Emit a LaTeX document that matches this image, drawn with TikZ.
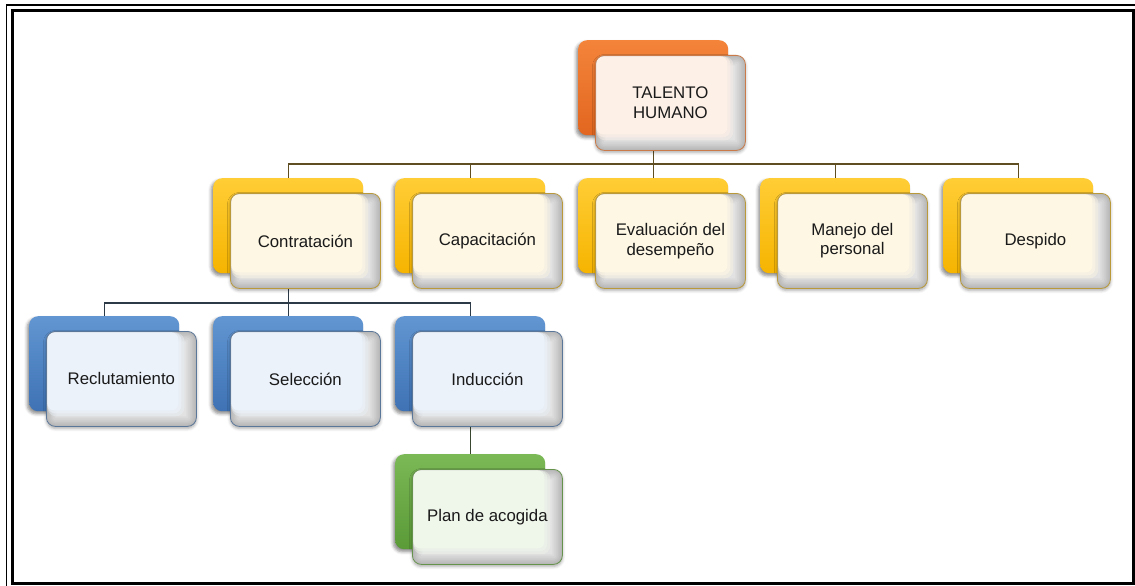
\documentclass[tikz,border=0pt]{standalone}
\usepackage{fontspec}
\setmainfont{Liberation Sans}
\usetikzlibrary{calc,shadows.blur,backgrounds}

% palette: back card (top/bottom of gradient), front card tint and outline
\definecolor{orangetop}{HTML}{F4843A}
\definecolor{orangebot}{HTML}{E2661F}
\definecolor{orangetint}{HTML}{FDF0E7}
\definecolor{orangeline}{HTML}{C97A48}
\definecolor{yellowtop}{HTML}{FFCD35}
\definecolor{yellowbot}{HTML}{F6B400}
\definecolor{yellowtint}{HTML}{FEF7E4}
\definecolor{yellowline}{HTML}{B9993A}
\definecolor{bluetop}{HTML}{6196D2}
\definecolor{bluebot}{HTML}{3E72B4}
\definecolor{bluetint}{HTML}{EBF2FA}
\definecolor{blueline}{HTML}{5A7698}
\definecolor{greentop}{HTML}{7BB856}
\definecolor{greenbot}{HTML}{5A9A37}
\definecolor{greentint}{HTML}{EFF6EA}
\definecolor{greenline}{HTML}{66934C}
\definecolor{shadegray}{HTML}{E2E2E2}
\definecolor{ink}{HTML}{1A1A1A}
\definecolor{olivebus}{HTML}{5E4E22}
\definecolor{slatebus}{HTML}{2C3A48}
\definecolor{greenbus}{HTML}{3A4730}

\tikzset{
  backbox/.style={rounded corners=9pt, minimum width=150pt, minimum height=95pt,
    inner sep=0pt, anchor=north west, top color=#1top, bottom color=#1bot,
    blur shadow={shadow xshift=-2pt, shadow yshift=-2.5pt,
      shadow blur radius=3pt, shadow opacity=45}},
  frontbox/.style={rounded corners=9pt, minimum width=150pt, minimum height=95pt,
    inner sep=0pt, anchor=north west, draw=#1line, line width=0.8pt,
    fill=shadegray, align=center, text=ink,
    font=\fontsize{16.8}{19.5}\selectfont,
    blur shadow={shadow xshift=0pt, shadow yshift=-2pt,
      shadow blur radius=3pt, shadow opacity=35},
    path picture={
      % soft inner shading towards the card edge
      \foreach \w in {20,16,12,9,6,3}
        \draw[line width=\w pt, black, opacity=0.03, rounded corners=9pt]
          (path picture bounding box.south west) rectangle (path picture bounding box.north east);
      % tinted area where the card lies over the coloured back card
      \fill[#1tint, opacity=0.4, rounded corners=9pt]
        ($(path picture bounding box.north west)+(1pt,-1pt)$) rectangle
        ($(path picture bounding box.south east)+(-12pt,10pt)$);
      \fill[#1tint, opacity=0.6, rounded corners=8pt]
        ($(path picture bounding box.north west)+(1pt,-1pt)$) rectangle
        ($(path picture bounding box.south east)+(-15pt,13pt)$);
      \fill[#1tint, rounded corners=7pt]
        ($(path picture bounding box.north west)+(1pt,-1pt)$) rectangle
        ($(path picture bounding box.south east)+(-18pt,16pt)$);
    }},
  bus/.style={draw=#1, line width=1.4pt},
}

% one chart entry: coloured back card with a lighter card on top of it
% #1 name, #2/#3 top-left corner of the back card, #4 palette, #5 label
\newcommand\hrunit[5]{%
  \node[backbox=#4] (#1-b) at (#2,#3) {};
  \node[frontbox=#4] (#1) at (#2+17,#3+15) {#5};
}

\begin{document}
\begin{tikzpicture}[x=1pt,y=-1pt]
\useasboundingbox (0,0) rectangle (1135,586);

% double page frame
\draw[line width=1.2pt] (6.5,586) -- (6.5,5) -- (1135,5);
\draw[line width=3pt] (12,11) rectangle (1133,583);

% top
\hrunit{th}{578}{40}{orange}{TALENTO\\HUMANO}

% second level
\hrunit{ctr}{213}{178}{yellow}{Contratación}
\hrunit{cap}{395}{178}{yellow}{Capacitación}
\hrunit{eva}{578}{178}{yellow}{Evaluación del\\desempeño}
\hrunit{man}{760}{178}{yellow}{Manejo del\\personal}
\hrunit{des}{943}{178}{yellow}{Despido}

% third level
\hrunit{rec}{29}{316}{blue}{Reclutamiento}
\hrunit{sel}{213}{316}{blue}{Selección}
\hrunit{ind}{395}{316}{blue}{Inducción}

% fourth level
\hrunit{plan}{395}{454}{green}{Plan de acogida}

% connectors
\begin{scope}[on background layer]
  \draw[bus=olivebus] (th-b |- th.south) -- (th-b |- 0,164) coordinate (busA);
  \foreach \c in {ctr,cap,eva,man,des}
    \draw[bus=olivebus] (busA) -| (\c-b.north);
  \draw[bus=slatebus] (ctr-b |- ctr.south) -- (ctr-b |- 0,303) coordinate (busB);
  \foreach \c in {rec,sel,ind}
    \draw[bus=slatebus] (busB) -| (\c-b.north);
  \draw[bus=greenbus] (ind-b |- ind.south) -- (plan-b.north);
\end{scope}
\end{tikzpicture}
\end{document}
